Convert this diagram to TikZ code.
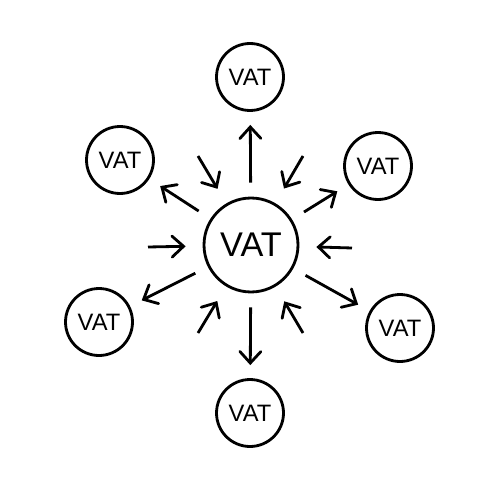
\documentclass[tikz,border=0pt]{standalone}
\usepackage{fontspec}
\setmainfont{Liberation Sans}
\usetikzlibrary{arrows.meta}

\begin{document}
\begin{tikzpicture}[x = 0.02cm, y = -0.02cm, line width = 1.6pt,
        >={Straight Barb[length = 2.3mm, width = 4.2mm, line cap = round]},
        tax/.style = {draw, circle, inner sep = 0pt, minimum size = 1.34cm,
            font = \fontsize{13.5}{15}\selectfont},
        hub/.style = {draw, circle, inner sep = 0pt, minimum size = 1.88cm,
            font = \fontsize{19.5}{22}\selectfont}]
        \useasboundingbox (0, 0) rectangle (500, 500);

        \node[hub] (hub) at (251, 245) {VAT};
        \node[tax] (top) at (250, 77) {VAT};
        \node[tax] (upleft) at (120, 160) {VAT};
        \node[tax] (upright) at (378, 166) {VAT};
        \node[tax] (lowleft) at (99, 322) {VAT};
        \node[tax] (lowright) at (400, 328) {VAT};
        \node[tax] (bottom) at (250, 413) {VAT};

        % outgoing
        \begin{scope}[->, shorten <= 0.28cm, shorten >= 0.26cm]
            \draw (hub) -- (top);
            \draw (hub) -- (upleft);
            \draw (hub) -- (upright);
            \draw (hub) -- (lowleft);
            \draw (hub) -- (lowright);
            \draw (hub) -- (bottom) ;
        \end{scope}

        % incoming
        \coordinate (inA) at (198, 156);
        \coordinate (inB) at (303, 156);
        \coordinate (inC) at (148, 247);
        \coordinate (inD) at (352, 248);
        \coordinate (inE) at (198, 333);
        \coordinate (inF) at (303, 333);
        \begin{scope}[->, shorten >= 0.34cm]
            \draw (inA) -- (hub);
            \draw (inB) -- (hub);
            \draw (inC) -- (hub);
            \draw (inD) -- (hub);
            \draw (inE) -- (hub);
            \draw (inF) -- (hub);
        \end{scope}
    \end{tikzpicture}
\end{document}
